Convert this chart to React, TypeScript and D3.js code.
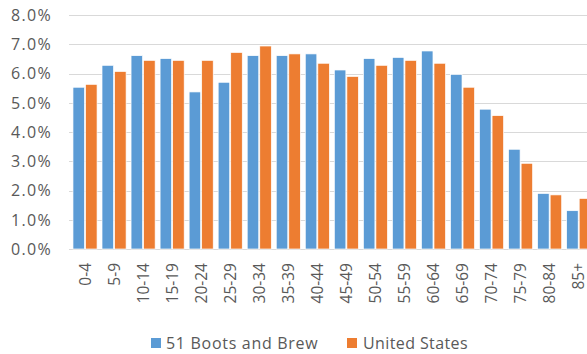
import React, { useEffect } from "react";
import * as d3 from "d3";

const categories = ["0-4","5-9","10-14","15-19","20-24","25-29","30-34","35-39","40-44","45-49","50-54","55-59","60-64","65-69","70-74","75-79","80-84","85+"];
const boots = [5.53,6.28,6.61,6.51,5.37,5.70,6.61,6.61,6.67,6.12,6.51,6.55,6.77,5.97,4.78,3.41,1.90,1.31];
const us = [5.63,6.07,6.45,6.45,6.45,6.72,6.94,6.67,6.35,5.90,6.28,6.45,6.35,5.53,4.56,2.93,1.85,1.73];
const seriesNames = ["51 Boots and Brew", "United States"];
const colors = ["#5b9bd5", "#ed7d31"];
const yTicks = [0,1,2,3,4,5,6,7,8];

const W = 587, H = 354;
const FONT = "'Open Sans', sans-serif";

export default function App() {
  useEffect(() => { document.body.style.margin = "0"; }, []);
  const x = d3.scaleBand<string>().domain(categories).range([70.5, 593.2]).paddingInner(0.17).paddingOuter(0.085);
  const xs = d3.scaleBand<string>().domain(["a","b"]).range([0, x.bandwidth()]).paddingInner(0.08);
  const y = d3.scaleLinear().domain([0, 8]).range([249, 15]);
  const series = [boots, us];
  return (
    <svg width={W} height={H} style={{ display: "block", background: "#fff" }} fontFamily={FONT}>
      {yTicks.map(t => (
        <g key={t}>
          <line x1={69} x2={W} y1={Math.round(y(t)) + 0.5} y2={Math.round(y(t)) + 0.5} stroke="#d9d9d9" strokeWidth={1} />
          <text x={52} y={y(t)} dy="0.36em" textAnchor="end" fontSize={16} letterSpacing={1.3} fill="#595959">{t.toFixed(1) + "%"}</text>
        </g>
      ))}
      {series.map((vals, si) => (
        <g key={si}>
          {categories.map((c, i) => (
            <rect key={c} x={(x(c) as number) + (xs(si === 0 ? "a" : "b") as number)} width={xs.bandwidth()}
              y={y(vals[i])} height={y(0) - y(vals[i])} fill={colors[si]} stroke="#fff" strokeWidth={0.7} />
          ))}
        </g>
      ))}
      {categories.map(c => {
        const cx = (x(c) as number) + x.bandwidth() / 2;
        return (
          <text key={c} transform={`translate(${cx},263) rotate(-90)`} textAnchor="end" dy="0.36em" fontSize={15.5} fill="#595959">{c}</text>
        );
      })}
      <rect x={151} y={338} width={10} height={10} fill={colors[0]} />
      <text x={166} y={349} fontSize={16} letterSpacing={0.7} fill="#595959">{seriesNames[0]}</text>
      <rect x={347} y={338} width={10} height={10} fill={colors[1]} />
      <text x={363} y={349} fontSize={16} letterSpacing={0.4} fill="#595959">{seriesNames[1]}</text>
    </svg>
  );
}
